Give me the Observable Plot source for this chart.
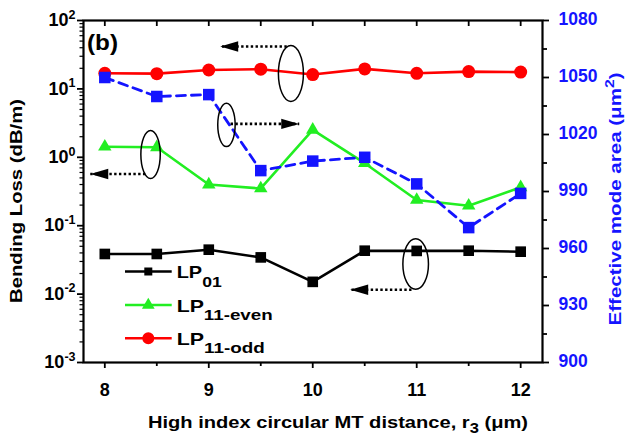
<!DOCTYPE html>
<html><head><meta charset="utf-8">
<script src="https://cdn.jsdelivr.net/npm/d3@7"></script>
<script src="https://cdn.jsdelivr.net/npm/@observablehq/plot@0.6"></script>
<style>body{margin:0;background:#fff} svg{display:block}</style>
</head><body><div id="chart"></div>
<script>
// ---- data ----
const distances   = [8, 8.5, 9, 9.5, 10, 10.5, 11, 11.5, 12];
const lossLP01    = [0.0386, 0.0386, 0.0446, 0.0344, 0.0151, 0.0431, 0.0428, 0.0431, 0.0417];
const lossLP11even= [1.43, 1.40, 0.40, 0.35, 2.52, 0.82, 0.238, 0.196, 0.364];
const lossLP11odd = [16.9, 16.7, 18.9, 19.4, 16.2, 19.6, 16.9, 17.9, 17.6];
const modeArea    = [1050, 1040, 1041, 1001, 1006, 1008, 994, 971, 989];
const xTicks      = [8, 9, 10, 11, 12];
const lossTicks   = [1e-3, 1e-2, 1e-1, 1, 10, 100];
const areaTicks   = [900, 930, 960, 990, 1020, 1050, 1080];
const legendNames = [["LP", "01"], ["LP", "11-even"], ["LP", "11-odd"]];
// annotation anchors (data coordinates)
const ellipseCenters = [{x: 9.79, y: 16.8}, {x: 9.17, y: 2.98}, {x: 8.44, y: 1.10}, {x: 10.99, y: 0.0275}];
const arrowSpecs = [
  {x1: 9.75, x2: 9.11, y: 41.6},
  {x1: 9.21, x2: 9.87, y: 3.08},
  {x1: 8.39, x2: 7.86, y: 0.571},
  {x1: 10.95, x2: 10.36, y: 0.0116}
];

// ---- layout / styling ----
const W = 627, H = 436, mL = 83, mR = 85, mT = 20, mB = 74;
const FONT = "'Liberation Sans', Arial, Helvetica, sans-serif";
const BLUE = "#1414ff", RED = "#ff0000", GREEN = "#22ee22";

const areaToLoss = a => Math.pow(10, -3 + 5 * (a - 900) / 180);

const rows = distances.map((d, i) => ({
  d, lp01: lossLP01[i], even: lossLP11even[i], odd: lossLP11odd[i], area: areaToLoss(modeArea[i])
}));
const minorLoss = [];
for (let e = -3; e < 2; e++) for (let k = 2; k <= 9; k++) minorLoss.push(k * Math.pow(10, e));
const halfX = d3.range(8, 12.001, 0.5);
const minorX = halfX.filter(v => !Number.isInteger(v));
const minorArea = d3.pairs(areaTicks).map(([a, b]) => areaToLoss((a + b) / 2));

const ellipseSizes = [[12.5, 28], [8.7, 21.7], [9.7, 24], [12.8, 25.3]];
function ellipseSymbol(rx, ry) {
  const k = 0.5523;
  return {draw(ctx) {
    ctx.moveTo(rx, 0);
    ctx.bezierCurveTo(rx, ry * k, rx * k, ry, 0, ry);
    ctx.bezierCurveTo(-rx * k, ry, -rx, ry * k, -rx, 0);
    ctx.bezierCurveTo(-rx, -ry * k, -rx * k, -ry, 0, -ry);
    ctx.bezierCurveTo(rx * k, -ry, rx, -ry * k, rx, 0);
    ctx.closePath();
  }};
}
const arrowHead = {draw(ctx) { ctx.moveTo(0, 0); ctx.lineTo(18, -5.2); ctx.lineTo(18, 5.2); ctx.closePath(); }};

const plotH = H - mT - mB;

const plot = Plot.plot({
  width: W, height: H, marginLeft: mL, marginRight: mR, marginTop: mT, marginBottom: mB,
  style: {fontFamily: FONT, fontWeight: "bold", fontSize: "18px", background: "white", color: "black", overflow: "visible"},
  x: {domain: [7.795, 12.21]},
  y: {type: "log", domain: [1e-3, 1e2]},
  marks: [
    // axes
    Plot.axisX({ticks: xTicks, tickSize: 6, tickPadding: 15, strokeWidth: 1.8, label: null, fontSize: 18, tickFormat: d => String(d)}),
    Plot.axisX({ticks: minorX, tickSize: 4, strokeWidth: 1.8, label: null, tickFormat: () => ""}),
    Plot.ruleX(halfX, {x: d => d, insetBottom: plotH - 6, strokeWidth: 1.8}),
    Plot.axisY({ticks: lossTicks, tickSize: 6, tickPadding: 2, strokeWidth: 1.8, label: null, fontSize: 18,
      tickFormat: v => "10^" + Math.round(Math.log10(v))}),
    Plot.axisY({ticks: minorLoss, tickSize: 3.5, strokeWidth: 1.2, label: null, tickFormat: () => ""}),
    Plot.axisY({anchor: "right", ticks: areaTicks.map(areaToLoss), tickSize: 6, strokeWidth: 1.8,
      stroke: "black", label: null, tickFormat: () => ""}),
    Plot.axisY({anchor: "right", ticks: minorArea, tickSize: 4, strokeWidth: 1.8, stroke: "black", label: null, tickFormat: () => ""}),
    Plot.text(areaTicks, {y: areaToLoss, text: d => String(d), frameAnchor: "right", dx: 16, dy: -1, textAnchor: "start",
      fill: BLUE, fontSize: 17.5, fontWeight: "bold"}),
    // series
    Plot.line(rows, {x: "d", y: "lp01", stroke: "black", strokeWidth: 2.6}),
    Plot.dot(rows, {x: "d", y: "lp01", symbol: "square", r: 6, fill: "black"}),
    Plot.line(rows, {x: "d", y: "even", stroke: GREEN, strokeWidth: 2.6}),
    Plot.dot(rows, {x: "d", y: "even", symbol: "triangle", r: 5, fill: GREEN}),
    Plot.line(rows, {x: "d", y: "odd", stroke: RED, strokeWidth: 2.6}),
    Plot.dot(rows, {x: "d", y: "odd", symbol: "circle", r: 6.5, fill: RED}),
    Plot.line(rows, {x: "d", y: "area", stroke: BLUE, strokeWidth: 2.8, strokeDasharray: "9,6"}),
    Plot.dot(rows, {x: "d", y: "area", symbol: "square", r: 6.5, fill: BLUE}),
    // annotations
    ...ellipseCenters.map((c, i) => Plot.dot([c], {x: "x", y: "y", symbol: ellipseSymbol(...ellipseSizes[i]),
      fill: "none", stroke: "black", strokeWidth: 1.5})),
    Plot.link(arrowSpecs, {x1: "x1", x2: "x2", y1: "y", y2: "y", stroke: "black", strokeWidth: 2.6, strokeDasharray: "2.4,2.4"}),
    Plot.dot(arrowSpecs, {x: "x2", y: "y", symbol: arrowHead, fill: "black", stroke: "none",
      rotate: d => (d.x2 < d.x1 ? 0 : 180)}),
    Plot.frame({stroke: "black", strokeWidth: 2.2})
  ]
});

document.getElementById("chart").appendChild(plot);
const svg = d3.select(plot);

// superscripts on the log-axis labels
svg.selectAll("text").each(function() {
  const t = this.textContent;
  if (/^10\^-?\d+$/.test(t)) {
    const exp = t.split("^")[1];
    const sel = d3.select(this);
    sel.text(null);
    sel.append("tspan").text("10");
    sel.append("tspan").attr("font-size", 12.5).attr("dy", -7.5).text(exp);
  }
});

function richText(parent, parts, attrs) {
  const t = parent.append("text").attr("font-family", FONT).attr("font-weight", "bold").attr("text-anchor", "start");
  for (const [k, v] of Object.entries(attrs)) t.attr(k, v);
  let shift = 0;
  for (const p of parts) {
    const sp = t.append("tspan").text(p.t);
    const want = p.dy || 0;
    if (want !== shift) { sp.attr("dy", want - shift); shift = want; }
    if (p.size) sp.attr("font-size", p.size);
  }
  return t;
}

// x title
richText(svg, [{t: "High index circular MT distance, r"}, {t: "3", dy: 5, size: 14}, {t: " (\u03bcm)", dy: 0}],
  {x: 338, y: 428, "text-anchor": "middle", "font-size": 17, fill: "black", textLength: 380, lengthAdjust: "spacingAndGlyphs"});
// left title
richText(svg, [{t: "Bending Loss (dB/m)"}],
  {transform: "translate(22,201) rotate(-90)", "text-anchor": "middle", "font-size": 17, fill: "black", textLength: 204, lengthAdjust: "spacingAndGlyphs"});
// right title
richText(svg, [{t: "Effective mode area (\u03bcm"}, {t: "2", dy: -7, size: 13}, {t: ")", dy: 0}],
  {transform: "translate(621,199) rotate(-90)", "text-anchor": "middle", "font-size": 17, fill: BLUE, textLength: 253, lengthAdjust: "spacingAndGlyphs"});
// panel label
richText(svg, [{t: "(b)"}], {x: 87, y: 50, "font-size": 22, fill: "black", textLength: 31, lengthAdjust: "spacingAndGlyphs"});

// legend
const legendColors = ["black", GREEN, RED];
const legendSymbols = [d3.symbolSquare, d3.symbolTriangle, d3.symbolCircle];
const legendSizes = [64, 70, 113];
const legendWidths = [45, 96, 88];
const legendRows = [271.5, 305, 338.3];
const lg = svg.append("g");
legendNames.forEach((nm, i) => {
  const y = legendRows[i];
  lg.append("line").attr("x1", 125).attr("x2", 171.7).attr("y1", y).attr("y2", y)
    .attr("stroke", legendColors[i]).attr("stroke-width", 2.6);
  lg.append("path").attr("d", d3.symbol(legendSymbols[i], legendSizes[i])())
    .attr("transform", `translate(148.3,${y})`).attr("fill", legendColors[i]);
  richText(lg, [{t: nm[0]}, {t: nm[1], dy: 8.5, size: 15}],
    {x: 176.7, y: y + 6.5, "font-size": 17, fill: "black", textLength: legendWidths[i], lengthAdjust: "spacingAndGlyphs"});
});
</script>
</body></html>
